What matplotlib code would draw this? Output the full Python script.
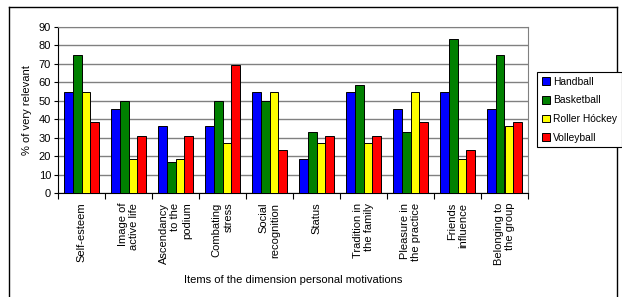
import numpy as np
import matplotlib.pyplot as plt
from matplotlib.lines import Line2D

plt.rcParams['font.family'] = ['Liberation Sans', 'DejaVu Sans']

items = ["Self-esteem", "Image of\nactive life", "Ascendancy\nto the\npodium",
         "Combating\nstress", "Social\nrecognition", "Status", "Tradition in\nthe family",
         "Pleasure in\nthe practice", "Friends\ninfluence", "Belonging to\nthe group"]
sports = ["Handball", "Basketball", "Roller Hóckey", "Volleyball"]
colors = ["#0000FF", "#008000", "#FFFF00", "#FF0000"]

handball = [54.5, 45.5, 36.4, 36.4, 54.5, 18.2, 54.5, 45.5, 54.5, 45.5]
basketball = [75.0, 50.0, 16.7, 50.0, 50.0, 33.3, 58.3, 33.3, 83.3, 75.0]
roller_hockey = [54.5, 18.2, 18.2, 27.3, 54.5, 27.3, 27.3, 54.5, 18.2, 36.4]
volleyball = [38.5, 30.8, 30.8, 69.2, 23.1, 30.8, 30.8, 38.5, 23.1, 38.5]
series = [handball, basketball, roller_hockey, volleyball]

fig = plt.figure(figsize=(6.22, 2.97), dpi=100)
W, H = 622, 297
ax = fig.add_axes([58 / W, 1 - 193 / H, 470 / W, 166 / H])

x = np.arange(len(items))
bw = 0.19
for i, (vals, c, name) in enumerate(zip(series, colors, sports)):
    ax.bar(x + (i - 1.5) * bw, vals, bw, color=c, edgecolor="black", linewidth=0.7,
           label=name, zorder=3)

ax.set_xlim(-0.5, len(items) - 0.5)
ax.set_ylim(0, 90)
ax.set_yticks(range(0, 91, 10))
ax.yaxis.grid(True, color="#808080", linewidth=1, zorder=0)
ax.tick_params(axis="y", labelsize=8, length=3, width=0.8, pad=2)

ax.set_xticks(np.arange(-0.5, len(items)), minor=False)
ax.set_xticklabels([])
ax.tick_params(axis="x", which="major", length=4, width=0.8)
ax.set_xticks(x, minor=True)
ax.set_xticklabels(items, minor=True, rotation=90, fontsize=8, va="top",
                   ha="center", multialignment="right")
ax.tick_params(axis="x", which="minor", length=0, pad=7)

for s in ["top", "right"]:
    ax.spines[s].set_color("#808080")
for s in ["left", "bottom"]:
    ax.spines[s].set_color("black")

fig.text(293 / W, 1 - 280 / H, "Items of the dimension personal motivations",
         fontsize=8, ha="center", va="center")
fig.text(27 / W, 1 - 110 / H, "% of very relevant", fontsize=8, rotation=90,
         ha="center", va="center")

leg = fig.legend(loc="upper left", bbox_to_anchor=(537 / W, 1 - 72 / H), fontsize=7.4,
                 frameon=True, fancybox=False, edgecolor="black", framealpha=1,
                 handlelength=0.8, handleheight=0.8, handletextpad=0.3,
                 labelspacing=0.85, borderpad=0.45, borderaxespad=0)
leg.get_frame().set_linewidth(0.8)

# outer chart border
fig.add_artist(Line2D([9 / W, 9 / W], [0, 1 - 7 / H], color="black", linewidth=1,
                      transform=fig.transFigure))
fig.add_artist(Line2D([9 / W, 617 / W], [1 - 7 / H, 1 - 7 / H], color="black",
                      linewidth=1, transform=fig.transFigure))
fig.add_artist(Line2D([617 / W, 617 / W], [0, 1 - 7 / H], color="black", linewidth=1,
                      transform=fig.transFigure))

fig.savefig("out.png", dpi=100)
